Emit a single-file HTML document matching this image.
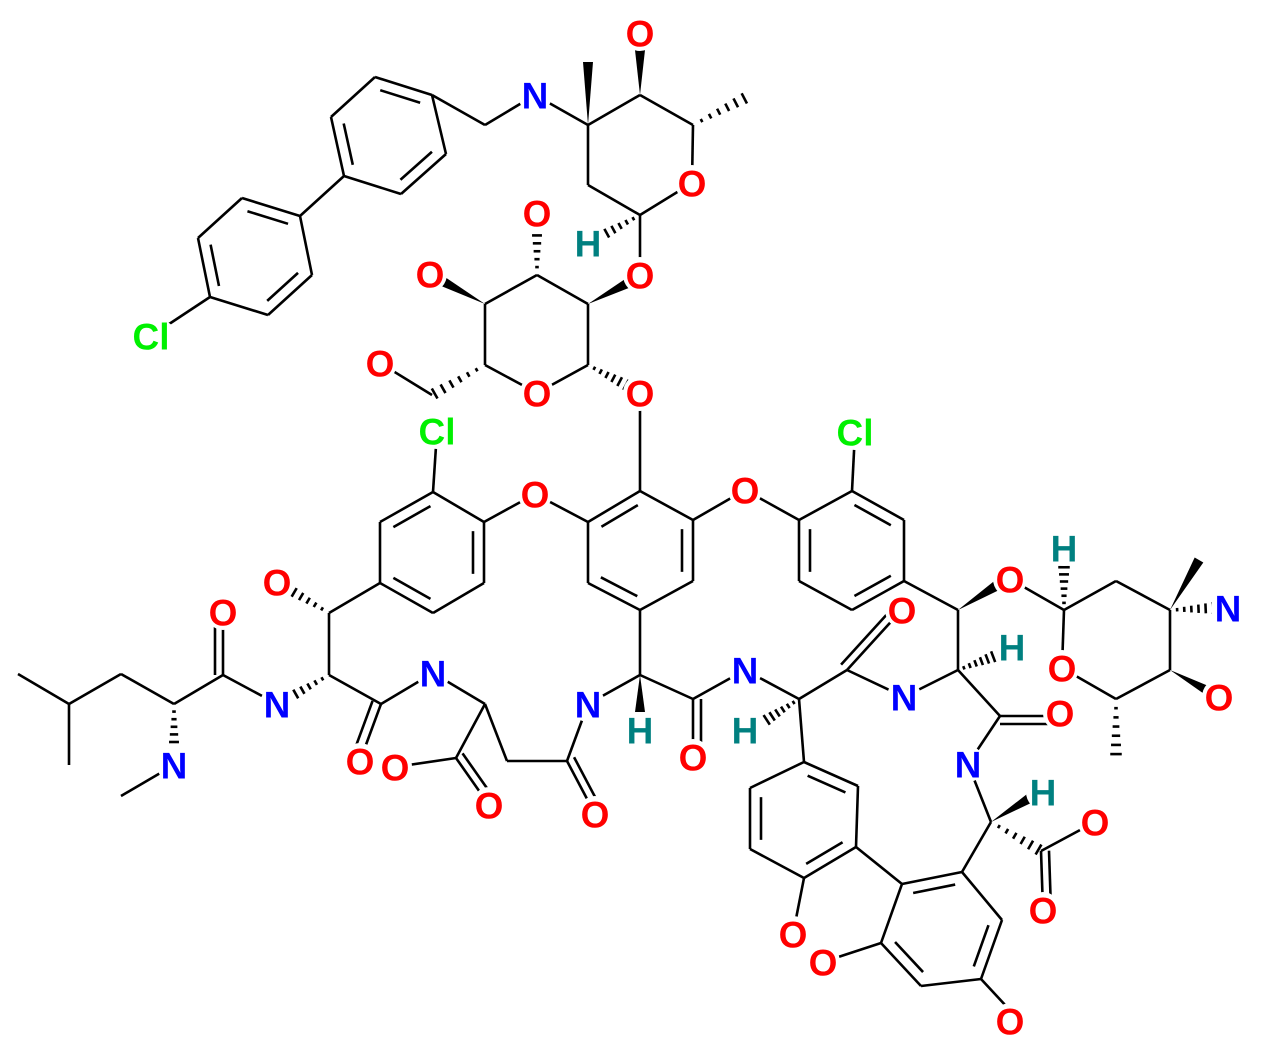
<!DOCTYPE html>
<html><head><meta charset="utf-8"><style>
html,body{margin:0;padding:0;background:#fff;}
svg{display:block}
text{font-family:"Liberation Sans",sans-serif;font-weight:bold;font-size:37px;text-anchor:middle;dominant-baseline:central}
</style></head><body>
<svg id="s" width="1271" height="1055" viewBox="0 0 1271 1055" xmlns="http://www.w3.org/2000/svg"></svg>
<script>
const s=document.getElementById('s');let out='';
function L(a,b,c,d){out+=`<line x1="${a}" y1="${b}" x2="${c}" y2="${d}" stroke="#000" stroke-width="2.6"/>`;}
function D(a,b,c,d,off){
  L(a,b,c,d);const dx=c-a,dy=d-b,l=Math.hypot(dx,dy);const nx=-dy/l*off,ny=dx/l*off;
  L(a+nx,b+ny,c+nx,d+ny);}
function I(a,b,c,d,cx,cy){
  L(a,b,c,d);const mx=(a+c)/2,my=(b+d)/2;let dx=c-a,dy=d-b,l=Math.hypot(dx,dy);let nx=-dy/l,ny=dx/l;
  if((cx-mx)*nx+(cy-my)*ny<0){nx=-nx;ny=-ny;}const o=11,sh=0.15;
  L(a+nx*o+dx*sh,b+ny*o+dy*sh,c+nx*o-dx*sh,d+ny*o-dy*sh);}
function W(a,b,c,d){const dx=c-a,dy=d-b,l=Math.hypot(dx,dy);const nx=-dy/l*5,ny=dx/l*5;
  out+=`<polygon points="${a},${b} ${c+nx},${d+ny} ${c-nx},${d-ny}" fill="#000"/>`;}
function H(a,b,c,d){const dx=c-a,dy=d-b,l=Math.hypot(dx,dy);const n=6;
  for(let i=1;i<=n;i++){const t=i/n*0.95;const x=a+dx*t,y=b+dy*t;const w=1+5*t;const nx=-dy/l*w,ny=dx/l*w;
  L(x+nx,y+ny,x-nx,y-ny);}}
const C={O:'#ff0000',N:'#0000ff',Cl:'#00f000',H:'#008080'};
let labs='';
function T(t,x,y){const r=t=='Cl'?26:17;labs+=`<ellipse cx="${x}" cy="${y}" rx="${r}" ry="18" fill="#fff"/><text x="${x}" y="${y+1}" fill="${C[t]}">${t}</text>`;}
function ring(p,cx,cy,dbl){for(let i=0;i<6;i++){const a=p[i],b=p[(i+1)%6];if(dbl.includes(i))I(a[0],a[1],b[0],b[1],cx,cy);else L(a[0],a[1],b[0],b[1]);}}
ring([[375,77],[432,95],[446,154],[401,194],[344,176],[331,117]],388,135,[0,2,4]);
ring([[242,198],[300,216],[312,275],[268,315],[210,297],[198,238]],255,256,[0,2,4]);
L(300,216,344,176);L(210,297,151,336);T('Cl',151,336);
L(432,95,485,125);L(485,125,535,95);L(535,95,588,125);T('N',535,95);
W(588,125,588,62);
L(588,125,640,95);L(640,95,693,125);L(693,125,692,183);L(692,183,640,215);L(640,215,588,185);L(588,185,588,125);
T('O',692,183);W(640,95,640,50);T('O',640,33);H(693,125,747,97);
H(640,215,598,238);T('H',588,243);L(640,215,640,275);T('O',640,275);
L(537,275,588,304);L(588,304,588,365);L(588,365,537,393);L(537,393,485,365);L(485,365,485,304);L(485,304,537,275);
T('O',537,393);H(537,275,537,225);T('O',537,213);W(588,304,628,283);W(485,304,442,281);T('O',430,274);
H(588,365,628,386);T('O',640,393);H(485,365,432,395);L(432,395,380,363);T('O',380,363);
L(640,393,640,491);
ring([[433,492],[484,522],[484,583],[433,613],[380,583],[380,522]],432,552,[1,3,5]);
L(433,492,437,431);T('Cl',437,431);
L(484,522,535,494);L(535,494,588,522);T('O',535,494);
ring([[640,491],[693,520],[693,581],[640,610],[588,583],[588,522]],640,551,[1,3,5]);
L(693,520,745,490);L(745,490,799,520);T('O',745,490);
ring([[852,491],[904,520],[904,581],[852,610],[799,581],[799,520]],852,551,[0,2,4]);
L(852,491,855,432);T('Cl',855,432);
L(380,583,329,613);H(329,613,285,587);T('O',277,582);L(329,613,329,675);
H(329,675,287,699);T('N',277,704);L(277,704,223,675);D(223,675,223,612,-8);T('O',223,612);
L(223,675,174,704);H(174,704,174,752);T('N',174,765);L(174,765,121,796);
L(174,704,121,674);L(121,674,69,704);L(69,704,18,674);L(69,704,69,765);
L(329,675,381,704);D(381,704,360,761,9);T('O',360,761);L(381,704,433,673);T('N',433,673);
L(433,673,485,704);L(485,704,456,758);L(456,758,395,767);T('O',395,767);D(456,758,489,805,-8);T('O',489,805);
L(485,704,507,761);L(507,761,567,761);D(567,761,595,814,-8);T('O',595,814);L(567,761,588,704);T('N',588,704);
L(588,704,640,675);L(640,675,640,610);W(640,675,640,712);T('H',640,730);
L(640,675,693,699);D(693,699,693,757,-8);T('O',693,757);L(693,699,745,670);T('N',745,670);
L(745,670,799,699);H(799,699,765,721);T('H',745,730);
L(799,699,847,670);D(847,670,898,614,-8);T('O',902,610);L(847,670,904,697);T('N',904,697);
L(904,697,958,670);H(958,670,995,656);T('H',1012,647);
L(958,670,1000,716);D(1000,716,1060,716,8);T('O',1060,713);
L(958,670,958,610);L(958,610,904,581);W(958,610,996,586);T('O',1010,579);
L(1010,579,1064,610);H(1064,610,1064,565);T('H',1064,548);
L(1064,610,1116,581);L(1116,581,1170,610);L(1170,610,1170,670);L(1170,670,1116,699);L(1116,699,1062,668);L(1062,668,1064,610);
T('O',1062,668);W(1170,610,1199,560);H(1170,610,1215,608);T('N',1228,608);W(1170,670,1210,692);T('O',1219,697);
H(1116,699,1116,757);
L(1000,716,968,764);T('N',968,764);L(968,764,991,822);W(991,822,1030,798);T('H',1043,792);
H(991,822,1041,851);L(1041,851,1095,822);T('O',1095,822);D(1041,851,1043,910,-8);T('O',1043,910);
L(991,822,962,872);L(799,699,804,762);
ring([[804,762],[858,786],[856,847],[804,878],[750,849],[750,788]],804,818,[0,2,4]);
L(804,878,793,934);T('O',793,934);L(856,847,902,884);
ring([[962,872],[902,884],[881,943],[921,986],[981,979],[1002,920]],942,930,[0,2,4]);
L(881,943,823,962);T('O',823,962);L(981,979,1020,1021);T('O',1010,1021);
s.innerHTML=out+labs;
</script>
</body></html>
